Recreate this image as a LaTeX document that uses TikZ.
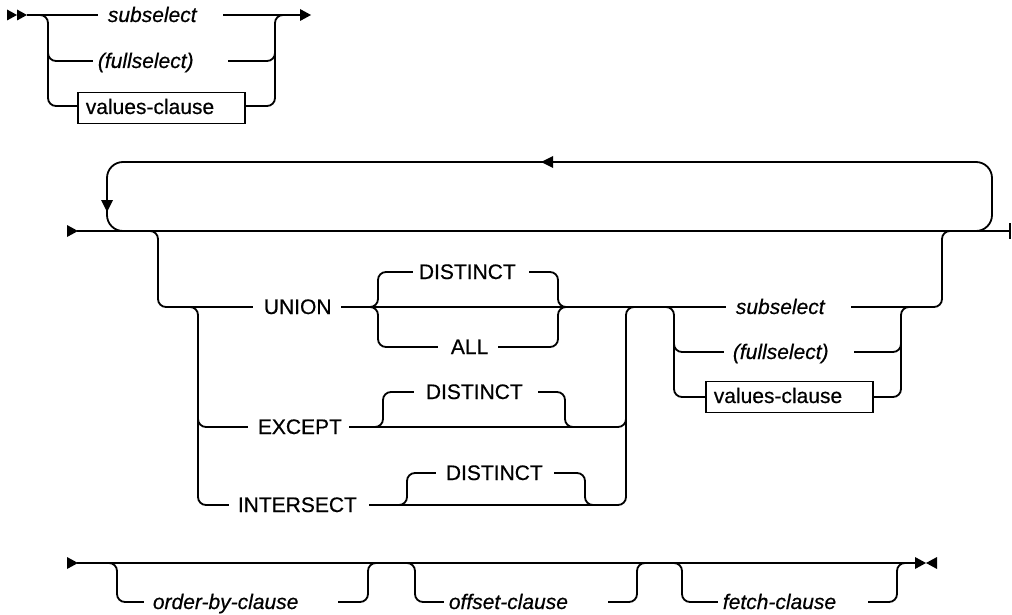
\documentclass[tikz,border=0pt]{standalone}
\usepackage{fontspec}
\setmainfont{Liberation Sans}
\newfontfamily\labfont{Liberation Sans}[FakeBold=0.5]
\newcommand{\rrslot}[3]{\makebox[#1pt][l]{\hspace*{#2pt}#3}}
\begin{document}
\begin{tikzpicture}[x=1pt,y=-1pt,line width=1.8pt,
  rr/.style={rounded corners=8pt},
  loopr/.style={rounded corners=16pt},
  lbl/.style={fill=white,inner sep=0pt,text height=15pt,text depth=4pt,anchor=base west,font=\labfont\fontsize{21}{24}\selectfont},
  var/.style={lbl,font=\labfont\fontsize{21}{24}\selectfont\itshape},
  boxn/.style={draw,fill=white,line width=1.6pt,anchor=west,inner xsep=8pt,inner ysep=0pt,minimum height=31pt,text height=15pt,text depth=3pt,font=\labfont\fontsize{21}{24}\selectfont},
  tip/.style={fill=black,draw=none}]
\useasboundingbox (0,0) rectangle (1012,615);

% ---------------- top section ----------------
\fill[tip] (7,9.5) -- (17,15) -- (7,20.5) -- cycle;
\fill[tip] (17,9.5) -- (27,15) -- (17,20.5) -- cycle;
\draw (27,15) -- (301,15);
\fill[tip] (300,9) -- (311,15) -- (300,21) -- cycle;
\draw[rr] (48,50) |- (160,61) -| (275,50);
\draw[rr] (35,15) -| (48,106) -| (275,15) -- (290,15);
\node[var] (tsub) at (97,22) {\rrslot{125}{10}{subselect}};
\node[var] (tfull) at (92,68) {\rrslot{135}{5}{(fullselect)}};
\node[boxn] (tval) at (77,108) {\makebox[151pt][l]{values-clause}};

% ---------------- middle section ----------------
\fill[tip] (67,225) -- (78,231) -- (67,237) -- cycle;
\draw (77,231) -- (1009,231);
\draw (1010,223) -- (1010,239);
\draw[loopr] (950,231) -| (992,162) -| (107,231) -- (130,231);
\fill[tip] (101,200) -- (107,212) -- (113,200) -- cycle;
\fill[tip] (553,156) -- (541,162) -- (553,168) -- cycle;
% main branch row
\draw[rr] (140,231) -| (158,307) -| (942,231) -- (960,231);
% except / intersect
\draw[rr] (180,307) -| (198,427) -| (626,307) -- (645,307);
\draw[rr] (198,415) |- (400,505) -| (626,415);
% union distinct / all
\draw[rr] (360,307) -| (378,272) -| (558,307) -- (575,307);
\draw[rr] (360,307) -| (378,347) -| (558,307) -- (575,307);
% except distinct
\draw[rr] (365,427) -| (383,392) -| (565,427) -- (580,427);
% intersect distinct
\draw[rr] (390,505) -| (407,473) -| (585,505) -- (600,505);
% subselect choice
\draw[rr] (655,307) -| (674,397) -| (901,307) -- (920,307);
\draw[rr] (674,340) |- (800,352) -| (901,340);

\node[lbl] (union) at (252,314) {\rrslot{88}{11}{UNION}};
\node[lbl] (udist) at (412,279) {\rrslot{116}{6}{DISTINCT}};
\node[lbl] (uall) at (437,354) {\rrslot{60}{13}{ALL}};
\node[lbl] (except) at (247,434) {\rrslot{101}{10}{EXCEPT}};
\node[lbl] (edist) at (413,399) {\rrslot{124}{12}{DISTINCT}};
\node[lbl] (inter) at (228,512) {\rrslot{140}{9}{INTERSECT}};
\node[lbl] (idist) at (435,480) {\rrslot{118}{10}{DISTINCT}};
\node[var] (msub) at (725,314) {\rrslot{125}{10}{subselect}};
\node[var] (mfull) at (723,359) {\rrslot{130}{9}{(fullselect)}};
\node[boxn] (mval) at (705,397) {\makebox[151pt][l]{values-clause}};

% ---------------- bottom section ----------------
\fill[tip] (67,557) -- (78,563) -- (67,569) -- cycle;
\draw (77,563) -- (916,563);
\fill[tip] (915,557) -- (926,563) -- (915,569) -- cycle;
\fill[tip] (937,557) -- (926,563) -- (937,569) -- cycle;
\draw[rr] (100,563) -| (117,602) -| (368,563) -- (385,563);
\draw[rr] (400,563) -| (415,602) -| (637,563) -- (655,563);
\draw[rr] (665,563) -| (682,602) -| (897,563) -- (910,563);
\node[var] (order) at (143,609) {\rrslot{194}{9}{order-by-clause}};
\node[var] (offset) at (443,609) {\rrslot{164}{5}{offset-clause}};
\node[var] (fetch) at (717,609) {\rrslot{150}{5}{fetch-clause}};
\end{tikzpicture}
\end{document}
